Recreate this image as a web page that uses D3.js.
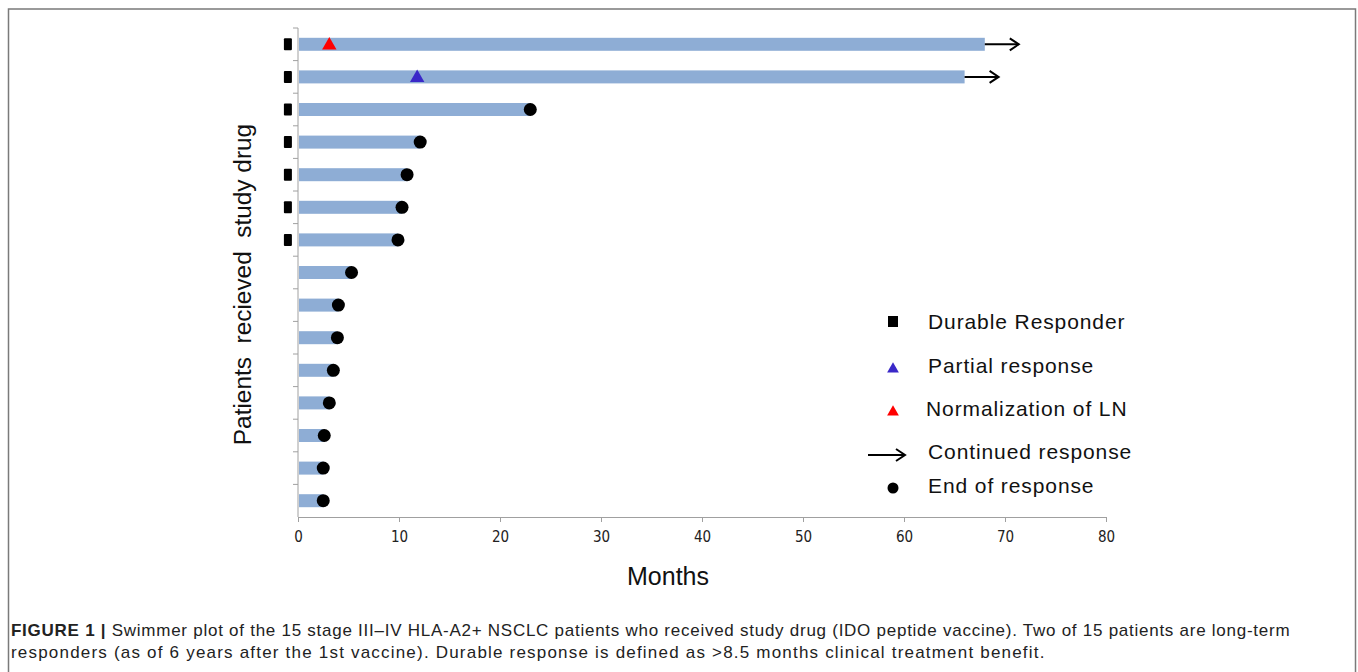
<!DOCTYPE html>
<html>
<head>
<meta charset="utf-8">
<script src="https://cdn.jsdelivr.net/npm/d3@7"></script>
<style>
  body { margin: 0; background: #fff; }
  svg { display: block; }
</style>
</head>
<body>
<script>
// patients listed top to bottom
const patients = d3.range(1, 16).map(d => "P" + d);
const months = [68, 66, 23, 12.1, 10.8, 10.3, 9.9, 5.3, 4.0, 3.9, 3.5, 3.1, 2.6, 2.5, 2.5];
const durable = [true, true, true, true, true, true, true, false, false, false, false, false, false, false, false];
const continued = [true, true, false, false, false, false, false, false, false, false, false, false, false, false, false];
const partialResp = [{ patient: "P2", month: 11.8 }];
const lnNormal = [{ patient: "P1", month: 3.1 }];
const xTicks = [0, 10, 20, 30, 40, 50, 60, 70, 80];

const width = 1358;
const height = 672;
const marginLeft = 298;
const marginRight = 252;
const marginTop = 28;
const plotBottom = 517;

const barColor = "#8eadd5";

const svg = d3.select("body").append("svg")
    .attr("width", width)
    .attr("height", height);

// figure frame
svg.append("rect")
    .attr("x", 8.5).attr("y", 9)
    .attr("width", 1347).attr("height", 700)
    .attr("fill", "none")
    .attr("stroke", "#7a7a7a")
    .attr("stroke-width", 1.5);

const x = d3.scaleLinear()
    .domain([0, 80])
    .range([marginLeft, width - marginRight]);

const y = d3.scaleBand()
    .domain(patients)
    .range([marginTop, plotBottom]);

const yc = p => y(p) + y.bandwidth() / 2;

// x axis
const xAxis = svg.append("g")
    .attr("transform", `translate(0,${plotBottom})`)
    .call(d3.axisBottom(x).tickValues(xTicks).tickSize(5).tickSizeOuter(0));
xAxis.select(".domain").attr("stroke", "#a0a0a0");
xAxis.selectAll(".tick line").attr("stroke", "#a0a0a0");
xAxis.selectAll(".tick text")
    .attr("dy", 0)
    .attr("y", 25)
    .attr("fill", "#222")
    .style("font-family", "'Liberation Sans Narrow', 'DejaVu Sans Condensed', sans-serif")
    .style("font-size", "15px");

// y axis: ticks at band edges, no labels
const yAxis = svg.append("g")
    .attr("transform", `translate(${marginLeft},0)`);
yAxis.append("line")
    .attr("x1", 0).attr("x2", 0)
    .attr("y1", marginTop).attr("y2", plotBottom)
    .attr("stroke", "#a0a0a0");
yAxis.selectAll("line.tk")
    .data(patients)
    .join("line")
    .attr("class", "tk")
    .attr("x1", -5).attr("x2", 0)
    .attr("y1", d => y(d)).attr("y2", d => y(d))
    .attr("stroke", "#a0a0a0");

// bars
svg.append("g")
    .selectAll("rect")
    .data(patients)
    .join("rect")
    .attr("x", x(0) + 1)
    .attr("y", d => yc(d) - 6.5)
    .attr("width", (d, i) => x(months[i]) - x(0) - 1)
    .attr("height", 13)
    .attr("fill", barColor);

// durable responder markers
svg.append("g")
    .selectAll("rect")
    .data(patients.filter((d, i) => durable[i]))
    .join("rect")
    .attr("x", x(-1) - 4)
    .attr("y", d => yc(d) - 6)
    .attr("width", 8)
    .attr("height", 12)
    .attr("rx", 1)
    .attr("fill", "#000");

// end of response dots
svg.append("g")
    .selectAll("circle")
    .data(patients.filter((d, i) => !continued[i]))
    .join("circle")
    .attr("cx", d => x(months[patients.indexOf(d)]))
    .attr("cy", d => yc(d))
    .attr("r", 6.5)
    .attr("fill", "#000");

// continued response arrows
const arrow = (g, x0, x1, yy) => {
    g.append("line")
        .attr("x1", x0).attr("x2", x1)
        .attr("y1", yy).attr("y2", yy)
        .attr("stroke", "#000").attr("stroke-width", 2);
    g.append("path")
        .attr("d", `M${x1 - 9},${yy - 6}L${x1},${yy}L${x1 - 9},${yy + 6}`)
        .attr("fill", "none")
        .attr("stroke", "#000").attr("stroke-width", 2);
};
const arrows = svg.append("g");
patients.forEach((p, i) => {
    if (continued[i]) arrow(arrows, x(months[i]), x(months[i]) + 34, yc(p));
});

// triangles
const tri = d3.symbol().type(d3.symbolTriangle).size(90);
svg.append("g")
    .selectAll("path")
    .data(partialResp)
    .join("path")
    .attr("transform", d => `translate(${x(d.month)},${yc(d.patient) + 1})`)
    .attr("d", tri)
    .attr("fill", "#3a28c8");
svg.append("g")
    .selectAll("path")
    .data(lnNormal)
    .join("path")
    .attr("transform", d => `translate(${x(d.month)},${yc(d.patient) + 1})`)
    .attr("d", tri)
    .attr("fill", "#ff0000");

// axis titles
svg.append("text")
    .attr("transform", `translate(251,${(marginTop + plotBottom) / 2 + 12}) rotate(-90)`)
    .attr("text-anchor", "middle")
    .style("font-family", "'Liberation Sans', Arial, sans-serif")
    .style("font-size", "24.4px")
    .style("white-space", "pre")
    .attr("fill", "#111")
    .text("Patients  recieved  study drug");

svg.append("text")
    .attr("x", 668).attr("y", 585)
    .attr("text-anchor", "middle")
    .style("font-family", "'Liberation Sans Narrow', 'Liberation Sans', sans-serif")
    .style("font-size", "25px")
    .attr("fill", "#111")
    .text("Months");

// legend
const legend = svg.append("g")
    .style("font-family", "'Liberation Sans', Arial, sans-serif")
    .style("font-size", "21px")
    .style("letter-spacing", "0.9px")
    .attr("fill", "#111");
const lx = 893, tx = 928;
legend.append("rect").attr("x", lx - 5).attr("y", 316).attr("width", 10).attr("height", 11).attr("fill", "#000");
legend.append("text").attr("x", tx).attr("y", 329).text("Durable Responder");
legend.append("path").attr("transform", `translate(${lx},369)`).attr("d", d3.symbol().type(d3.symbolTriangle).size(60)).attr("fill", "#3a28c8");
legend.append("text").attr("x", tx).attr("y", 373).text("Partial response");
legend.append("path").attr("transform", `translate(${lx},412)`).attr("d", d3.symbol().type(d3.symbolTriangle).size(60)).attr("fill", "#ff0000");
legend.append("text").attr("x", tx - 2).attr("y", 416).text("Normalization of LN");
arrow(legend, 868, 905, 455);
legend.append("text").attr("x", tx).attr("y", 459).text("Continued response");
legend.append("circle").attr("cx", lx).attr("cy", 488).attr("r", 5.5).attr("fill", "#000");
legend.append("text").attr("x", tx).attr("y", 493).text("End of response");

// caption
const cap = svg.append("g")
    .style("font-family", "'Liberation Sans', Arial, sans-serif")
    .style("font-size", "17px")
    .attr("fill", "#222");
const l1 = cap.append("text").attr("x", 11).attr("y", 636).style("letter-spacing", "0.74px");
l1.append("tspan").attr("font-weight", "bold").text("FIGURE 1 | ");
l1.append("tspan").text("Swimmer plot of the 15 stage III\u2013IV HLA-A2+ NSCLC patients who received study drug (IDO peptide vaccine). Two of 15 patients are long-term");
cap.append("text").attr("x", 11).attr("y", 658).style("letter-spacing", "1.2px")
    .text("responders (as of 6 years after the 1st vaccine). Durable response is defined as >8.5 months clinical treatment benefit.");
</script>
</body>
</html>
